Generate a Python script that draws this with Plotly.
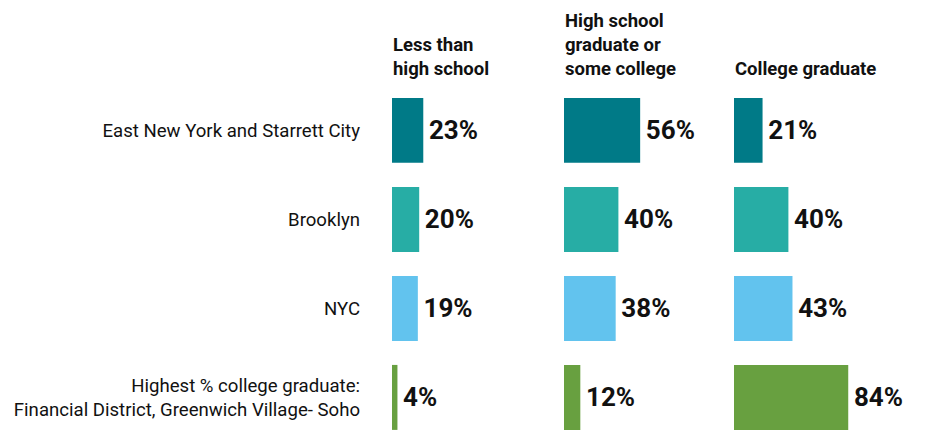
import plotly.graph_objects as go

categories = [
    "East New York and Starrett City",
    "Brooklyn",
    "NYC",
    "Highest % college graduate:<br>Financial District, Greenwich Village- Soho",
]
headers = ["Less than<br>high school", "High school<br>graduate or<br>some college", "College graduate"]
less_than_hs = [23, 20, 19, 4]
hs_or_some_college = [56, 40, 38, 12]
college_grad = [21, 40, 43, 84]
colors = ["#007A87", "#27ADA5", "#62C3EE", "#68A040"]

W, H = 932, 430
PX_PER_PCT = 1.36
col_left = [384, 556, 726]
col_right = [556, 726, 932]

fig = go.Figure()
series = [less_than_hs, hs_or_some_college, college_grad]
xaxes = ["x", "x2", "x3"]
for i, vals in enumerate(series):
    fig.add_trace(go.Bar(
        x=vals, y=categories, orientation="h",
        xaxis=xaxes[i], yaxis="y",
        marker=dict(color=colors, line=dict(width=0)),
        width=0.73,
        text=[f"\u200a{v}%" for v in vals],
        textposition="outside",
        textfont=dict(family="Roboto", size=26, color="#111111", weight="bold"),
        constraintext="none",
        cliponaxis=False,
        hoverinfo="skip",
        showlegend=False,
    ))

layout_axes = {}
for i in range(3):
    key = "xaxis" if i == 0 else f"xaxis{i+1}"
    width_px = col_right[i] - col_left[i]
    layout_axes[key] = dict(
        domain=[col_left[i] / W, col_right[i] / W],
        range=[0, width_px / PX_PER_PCT],
        visible=False, fixedrange=True, automargin=False,
        anchor="y",
    )

fig.update_layout(
    width=W, height=H,
    margin=dict(l=0, r=0, t=0, b=0, pad=0, autoexpand=False),
    paper_bgcolor="white", plot_bgcolor="white",
    bargap=0.27,
    yaxis=dict(
        type="category",
        categoryorder="array", categoryarray=categories,
        range=[3.456, -1.375],
        domain=[0, 1],
        anchor="x",
        automargin=False, fixedrange=True,
        showgrid=False, zeroline=False, showline=False, ticks="",
        ticklabelstandoff=31,
        tickfont=dict(family="Roboto", size=18.6, color="#111111"),
    ),
    **layout_axes,
)

for i, h in enumerate(headers):
    fig.add_annotation(
        text=h, xref=f"{xaxes[i]} domain", x=0, xanchor="left",
        yref="paper", y=1 - 73 / H, yanchor="bottom",
        align="left", showarrow=False, borderpad=0,
        font=dict(family="Roboto", size=18.5, color="#111111", weight="bold"),
    )

fig.write_html("out.html")
